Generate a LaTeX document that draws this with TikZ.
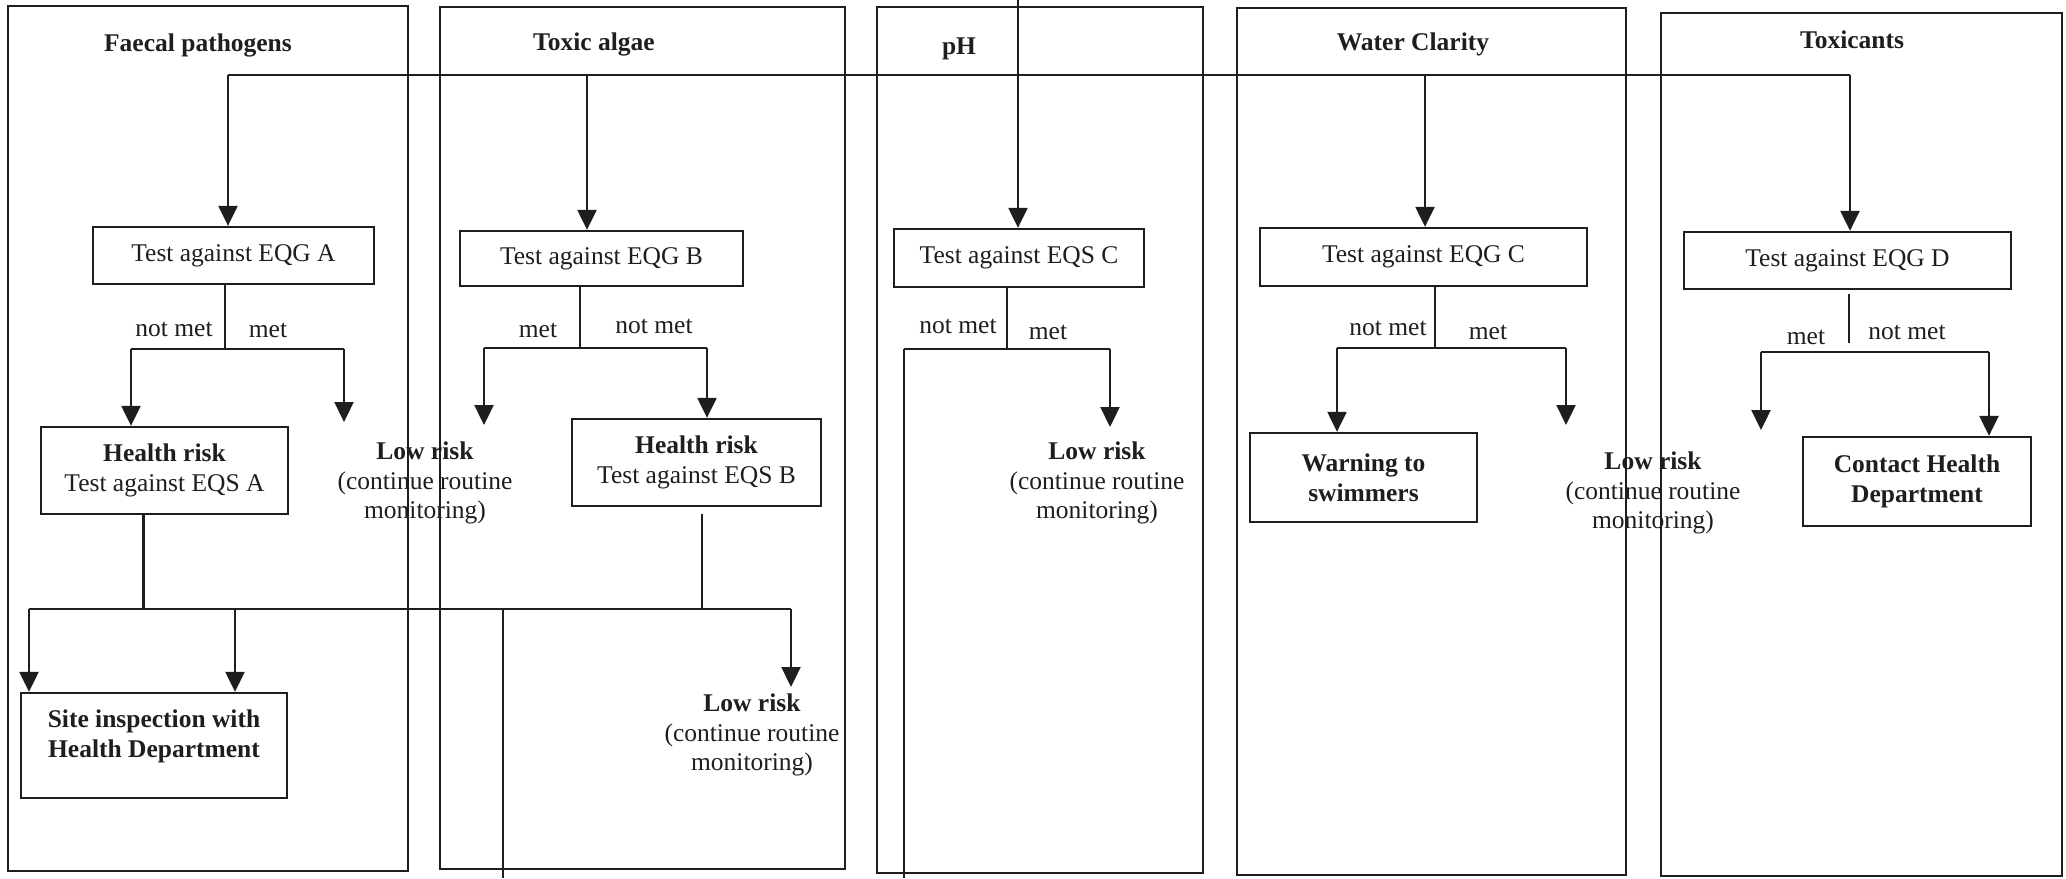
\documentclass[tikz,border=0pt]{standalone}
\usepackage{fontspec}
\setmainfont{Liberation Serif}
\usetikzlibrary{arrows.meta}
\definecolor{ink}{HTML}{1E1E1E}

\begin{document}
\begin{tikzpicture}[x=0.01cm, y=-0.01cm,
  inkline/.style={draw=ink, line width=0.65pt},
  arr/.style={inkline, -{Triangle[width=0.19cm,length=0.2cm]}},
  lbl/.style={font=\fontsize{7.25}{8.5}\selectfont, text=ink, inner sep=0pt, align=center},
  title/.style={lbl, font=\fontsize{7.25}{8.5}\selectfont\bfseries, anchor=base},
  box/.style={lbl, draw=ink, line width=0.65pt},
  panel/.style={draw=ink, line width=0.65pt}
]
\useasboundingbox (0,0) rectangle (2066,878);

% five column frames
\draw[panel] (8,6) rectangle (408,871);
\draw[panel] (440,7) rectangle (845,869);
\draw[panel] (877,7) rectangle (1203,873);
\draw[panel] (1237,8) rectangle (1626,875);
\draw[panel] (1661,13) rectangle (2062,876);

% column headings
\node[title] (hFP) at (198,51) {Faecal pathogens};
\node[title] (hTA) at (594,50) {Toxic algae};
\node[title] (hPH) at (959,54) {pH};
\node[title] (hWC) at (1413,50) {Water Clarity};
\node[title] (hTX) at (1852,48) {Toxicants};

% first tests
\node[box, minimum width=2.81cm, minimum height=0.57cm] (tA) at (233.5,255.5) {Test against EQG A};
\node[box, minimum width=2.83cm, minimum height=0.55cm] (tB) at (601.5,258.5) {Test against EQG B};
\node[box, minimum width=2.50cm, minimum height=0.58cm] (tC) at (1019,258) {Test against EQS C};
\node[box, minimum width=3.27cm, minimum height=0.58cm] (tD) at (1423.5,257) {Test against EQG C};
\node[box, minimum width=3.27cm, minimum height=0.57cm] (tE) at (1847.5,260.5) {Test against EQG D};

% outcome boxes
\node[box, minimum width=2.47cm, minimum height=0.87cm] (hA) at (164.5,470.5) {\textbf{Health risk}\\Test against EQS A};
\node[box, minimum width=2.49cm, minimum height=0.87cm] (hB) at (696.5,462.5) {\textbf{Health risk}\\Test against EQS B};
\node[box, minimum width=2.66cm, minimum height=1.05cm] (site) at (154,745.5) {\textbf{Site inspection with}\\\textbf{Health Department}\\[-2pt]\mbox{}};
\node[box, minimum width=2.27cm, minimum height=0.89cm] (warn) at (1363.5,477.5) {\textbf{Warning to}\\\textbf{swimmers}};
\node[box, minimum width=2.28cm, minimum height=0.89cm] (contact) at (1917,481.5) {\textbf{Contact Health}\\\textbf{Department}};

% low-risk outcomes
\node[lbl] (lowA) at (425,483) {\textbf{Low risk}\\(continue routine\\monitoring)};
\node[lbl] (lowB) at (752,735) {\textbf{Low risk}\\(continue routine\\monitoring)};
\node[lbl] (lowC) at (1097,483) {\textbf{Low risk}\\(continue routine\\monitoring)};
\node[lbl] (lowD) at (1653,493) {\textbf{Low risk}\\(continue routine\\monitoring)};

% branch labels
\node[lbl] (nmA) at (174,329) {not met};
\node[lbl] (mA)  at (268,330) {met};
\node[lbl] (mB)  at (538,330) {met};
\node[lbl] (nmB) at (654,326) {not met};
\node[lbl] (nmC) at (958,326) {not met};
\node[lbl] (mC)  at (1048,332) {met};
\node[lbl] (nmD) at (1388,328) {not met};
\node[lbl] (mD)  at (1488,332) {met};
\node[lbl] (mE)  at (1806,337) {met};
\node[lbl] (nmE) at (1907,332) {not met};

% feed lines from the top
\coordinate (jA) at (228,75);
\coordinate (jB) at (587,75);
\coordinate (jD) at (1425,75);
\coordinate (jE) at (1850,75);
\coordinate (pTop) at (1018,0);
\draw[inkline] (jA) -- (jE);
\draw[arr] (jA) -- (jA |- tA.north);
\draw[arr] (jB) -- (jB |- tB.north);
\draw[arr] (pTop) -- (pTop |- tC.north);
\draw[arr] (jD) -- (jD |- tD.north);
\draw[arr] (jE) -- (jE |- tE.north);

% faecal pathogens fork
\coordinate (fA) at (225,349);
\coordinate (fAl) at (131,349);
\coordinate (fAr) at (344,349);
\coordinate (eA) at (344,422);
\draw[inkline] (tA.south -| fA) -- (fA);
\draw[inkline] (fAl) -- (fAr);
\draw[arr] (fAl) -- (fAl |- hA.north);
\draw[arr] (fAr) -- (eA);

% toxic algae fork
\coordinate (fB) at (580,348);
\coordinate (fBl) at (484,348);
\coordinate (fBr) at (707,348);
\coordinate (eB) at (484,425);
\draw[inkline] (tB.south -| fB) -- (fB);
\draw[inkline] (fBl) -- (fBr);
\draw[arr] (fBl) -- (eB);
\draw[arr] (fBr) -- (fBr |- hB.north);

% pH fork
\coordinate (fC) at (1007,349);
\coordinate (fCl) at (904,349);
\coordinate (fCr) at (1110,349);
\coordinate (eC) at (1110,427);
\coordinate (eCl) at (904,878);
\draw[inkline] (tC.south -| fC) -- (fC);
\draw[inkline] (fCl) -- (fCr);
\draw[arr] (fCr) -- (eC);
\draw[inkline] (fCl) -- (eCl);

% water clarity fork
\coordinate (fD) at (1435,348);
\coordinate (fDl) at (1337,348);
\coordinate (fDr) at (1566,348);
\coordinate (eD) at (1566,425);
\draw[inkline] (tD.south -| fD) -- (fD);
\draw[inkline] (fDl) -- (fDr);
\draw[arr] (fDl) -- (fDl |- warn.north);
\draw[arr] (fDr) -- (eD);

% toxicants fork
\coordinate (fE) at (1849,352);
\coordinate (fEl) at (1761,352);
\coordinate (fEr) at (1989,352);
\coordinate (eE) at (1761,430);
\draw[inkline, shorten <=0.04cm, shorten >=0.09cm] (tE.south -| fE) -- (fE);
\draw[inkline] (fEl) -- (fEr);
\draw[arr] (fEl) -- (eE);
\draw[arr] (fEr) -- (fEr |- contact.north);

% second-stage fork
\coordinate (gA) at (143.5,609);
\coordinate (gL) at (29,609);
\coordinate (gM) at (235,609);
\coordinate (gR) at (791,609);
\coordinate (gB) at (702,609);
\coordinate (gX) at (503,609);
\coordinate (eR) at (791,687);
\coordinate (eX) at (503,878);
\draw[inkline] (hA.south -| gA) -- (gA);
\draw[inkline, shorten <=0.07cm] (hB.south -| gB) -- (gB);
\draw[inkline] (gL) -- (gR);
\draw[arr] (gL) -- (gL |- site.north);
\draw[arr] (gM) -- (gM |- site.north);
\draw[arr] (gR) -- (eR);
\draw[inkline] (gX) -- (eX);
\end{tikzpicture}
\end{document}
